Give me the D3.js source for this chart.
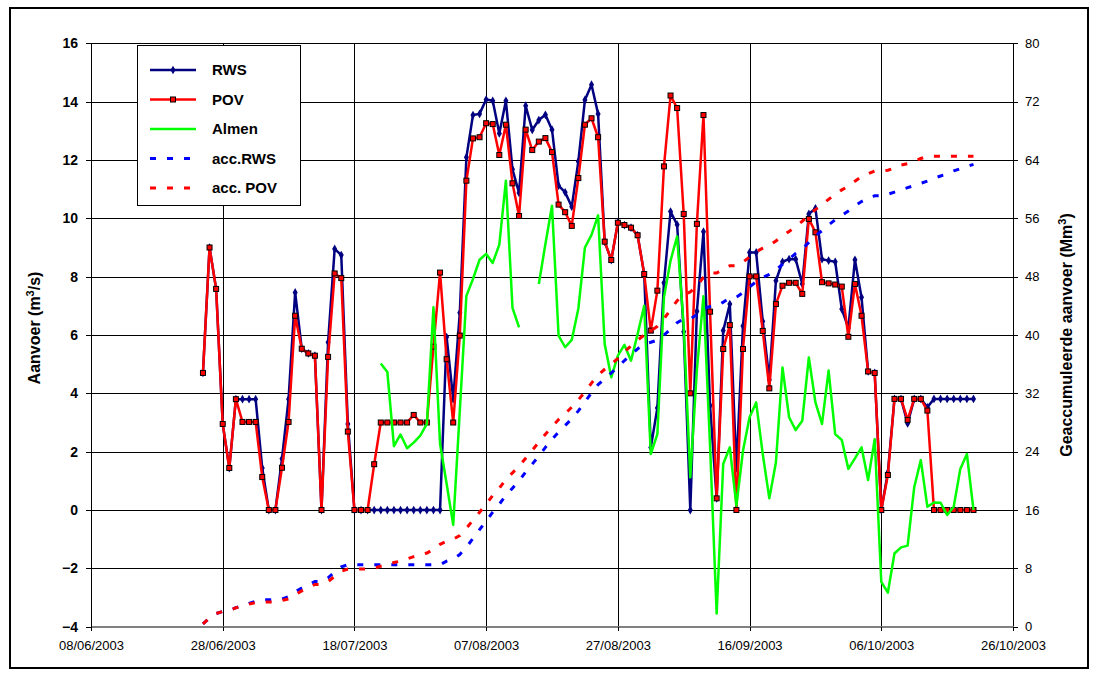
<!DOCTYPE html>
<html>
<head>
<meta charset="utf-8">
<script src="https://cdn.jsdelivr.net/npm/d3@7"></script>
<style>
  html, body { margin: 0; padding: 0; background: #fff; }
  svg { display: block; font-family: Arial, "Liberation Sans", sans-serif; }
</style>
</head>
<body>
<svg id="chart" width="1093" height="675"></svg>
<script>
// Daily values, first day 25/06/2003, last day 20/10/2003
const firstDay = "25/06/2003";

// Aanvoer RWS (m3/s)
const rws = [
  4.7, 9.0, 7.58, 2.95, 1.44, 3.8, 3.8, 3.8, 3.8, 1.44,
  0, 0, 1.76, 3.8, 7.46, 5.53, 5.37, 5.29, 0, 5.75,
  8.95, 8.74, 2.95, 0, 0, 0, 0, 0, 0, 0,
  0, 0, 0, 0, 0, 0, 0, 5.93, 3.8, 6.76,
  12.09, 13.54, 13.58, 14.07, 14.03, 12.91, 14.03, 11.68, 10.87, 13.86,
  13.03, 13.37, 13.55, 13.04, 11.12, 10.89, 10.4, 11.95, 14.06, 14.58,
  13.58, 9.2, 8.57, 9.85, 9.77, 9.68, 9.42, 8.09, 2.14, 3.5,
  7.79, 10.23, 9.78, 6.11, 0, 6.81, 9.54, 3.58, 0.4, 6.15,
  7.06, 1.43, 6.31, 8.83, 8.83, 6.47, 4.47, 7.86, 8.51, 8.6,
  8.6, 7.75, 10.15, 10.34, 8.6, 8.55, 8.51, 6.89, 6.24, 8.58,
  7.29, 4.75, 4.7, 0, 1.29, 3.81, 3.81, 2.97, 3.81, 3.81,
  3.52, 3.81, 3.81, 3.81, 3.81, 3.81, 3.81, 3.81
];

// Aanvoer POV (m3/s)
const pov = [
  4.7, 9.0, 7.58, 2.95, 1.44, 3.8, 3.02, 3.02, 3.02, 1.13,
  0, 0, 1.45, 3.02, 6.66, 5.53, 5.37, 5.29, 0, 5.25,
  8.11, 7.95, 2.69, 0, 0, 0, 1.57, 3.0, 3.0, 3.0,
  3.0, 3.0, 3.26, 3.0, 3.0, 5.6, 8.14, 5.17, 3.0, 5.98,
  11.29, 12.74, 12.78, 13.26, 13.23, 12.17, 13.21, 11.2, 10.08, 13.04,
  12.34, 12.63, 12.75, 12.27, 10.47, 10.21, 9.74, 11.38, 13.21, 13.43,
  12.78, 9.2, 8.57, 9.85, 9.77, 9.68, 9.42, 8.09, 6.15, 7.52,
  11.78, 14.21, 13.78, 10.15, 4.0, 9.81, 13.54, 6.8, 0.4, 5.52,
  6.34, 0, 5.52, 8.01, 8.01, 6.14, 4.17, 7.06, 7.69, 7.79,
  7.79, 7.41, 9.98, 9.52, 7.81, 7.77, 7.73, 7.66, 5.94, 7.75,
  6.66, 4.75, 4.7, 0, 1.2, 3.81, 3.81, 3.09, 3.81, 3.81,
  3.41, 0, 0, 0, 0, 0, 0, 0
];

// Aanvoer Almen (m3/s), null = no measurement
const almen = [
  null, null, null, null, null, null, null, null, null, null,
  null, null, null, null, null, null, null, null, null, null,
  null, null, null, null, null, null, null, 5.02, 4.73, 2.19,
  2.59, 2.12, 2.31, 2.55, 2.95, 6.95, 2.27, 0.9, -0.51, 3.4,
  7.34, 7.92, 8.58, 8.78, 8.47, 9.1, 11.29, 6.93, 6.26, null,
  null, 7.75, 9.12, 10.43, 5.98, 5.58, 5.83, 6.9, 9.0, 9.43,
  10.1, 5.69, 4.55, 5.29, 5.66, 5.12, 6.03, 7.0, 1.92, 2.6,
  7.29, 8.55, 9.38, 6.3, 1.12, 4.8, 7.33, 2.2, -3.55, 1.58,
  2.15, 0.15, 2.03, 3.18, 3.69, 1.92, 0.4, 1.63, 4.89, 3.18,
  2.74, 3.06, 5.23, 3.69, 2.95, 4.78, 2.6, 2.4, 1.41, 1.77,
  2.15, 1.03, 2.43, -2.46, -2.83, -1.49, -1.28, -1.22, 0.78, 1.71,
  0.11, 0.26, 0.25, -0.17, 0.11, 1.41, 1.92, 0.0
];

// Geaccumuleerde aanvoer RWS (Mm3)
const accRws = [
  0.4, 1.2, 1.8, 2.1, 2.2, 2.6, 2.9, 3.2, 3.5, 3.7,
  3.7, 3.7, 3.8, 4.1, 4.8, 5.3, 5.7, 6.2, 6.2, 6.7,
  7.5, 8.2, 8.5, 8.5, 8.5, 8.5, 8.5, 8.5, 8.5, 8.5,
  8.5, 8.5, 8.5, 8.5, 8.5, 8.5, 8.5, 9.0, 9.3, 9.9,
  10.9, 12.1, 13.3, 14.5, 15.7, 16.8, 18.0, 19.0, 20.0, 21.2,
  22.3, 23.4, 24.6, 25.7, 26.7, 27.6, 28.5, 29.6, 30.8, 32.1,
  33.2, 34.0, 34.8, 35.6, 36.5, 37.3, 38.1, 38.8, 39.0, 39.3,
  40.0, 40.8, 41.7, 42.2, 42.2, 42.8, 43.6, 43.9, 44.0, 44.5,
  45.1, 45.2, 45.8, 46.6, 47.3, 47.9, 48.3, 48.9, 49.7, 50.4,
  51.2, 51.8, 52.7, 53.6, 54.3, 55.1, 55.8, 56.4, 57.0, 57.7,
  58.3, 58.7, 59.1, 59.1, 59.3, 59.6, 59.9, 60.2, 60.5, 60.8,
  61.1, 61.5, 61.8, 62.1, 62.5, 62.8, 63.1, 63.4
];

// Geaccumuleerde aanvoer POV (Mm3)
const accPov = [
  0.4, 1.2, 1.8, 2.1, 2.2, 2.6, 2.8, 3.1, 3.3, 3.4,
  3.4, 3.4, 3.6, 3.8, 4.4, 4.9, 5.3, 5.8, 5.8, 6.2,
  6.9, 7.6, 7.9, 7.9, 7.9, 7.9, 8.0, 8.3, 8.5, 8.8,
  9.0, 9.3, 9.6, 9.8, 10.1, 10.6, 11.3, 11.7, 12.0, 12.5,
  13.5, 14.6, 15.7, 16.8, 18.0, 19.0, 20.2, 21.1, 22.0, 23.1,
  24.2, 25.3, 26.4, 27.4, 28.4, 29.2, 30.1, 31.1, 32.2, 33.4,
  34.5, 35.3, 36.0, 36.8, 37.7, 38.5, 39.3, 40.0, 40.6, 41.2,
  42.2, 43.5, 44.7, 45.5, 45.9, 46.7, 47.9, 48.5, 48.5, 49.0,
  49.5, 49.5, 50.0, 50.7, 51.4, 51.9, 52.3, 52.9, 53.6, 54.2,
  54.9, 55.6, 56.4, 57.2, 57.9, 58.6, 59.3, 59.9, 60.4, 61.1,
  61.7, 62.1, 62.5, 62.5, 62.6, 62.9, 63.3, 63.5, 63.8, 64.2,
  64.5, 64.5, 64.5, 64.5, 64.5, 64.5, 64.5, 64.5
];

// Axis ticks
const dateTicks = ["08/06/2003", "28/06/2003", "18/07/2003", "07/08/2003",
                   "27/08/2003", "16/09/2003", "06/10/2003", "26/10/2003"];
const leftTicks = [-4, -2, 0, 2, 4, 6, 8, 10, 12, 14, 16];
const rightTicks = [0, 8, 16, 24, 32, 40, 48, 56, 64, 72, 80];

const seriesNames = ["RWS", "POV", "Almen", "acc.RWS", "acc. POV"];

// ---------------------------------------------------------------
const parseDate = d3.utcParse("%d/%m/%Y");
const fmtDate = d3.utcFormat("%d/%m/%Y");
const start = parseDate(firstDay);
const days = rws.map((_, i) => d3.utcDay.offset(start, i));
const tickDates = dateTicks.map(parseDate);

const plot = { left: 91, right: 1013, top: 43.3, bottom: 626.7 };

const x = d3.scaleUtc()
  .domain([tickDates[0], tickDates[tickDates.length - 1]])
  .range([plot.left, plot.right]);
const yL = d3.scaleLinear().domain([-4, 16]).range([plot.bottom, plot.top]);
const yR = d3.scaleLinear().domain([0, 80]).range([plot.bottom, plot.top]);

const svg = d3.select("#chart");

// outer frame
svg.append("rect")
  .attr("x", 10).attr("y", 8).attr("width", 1078).attr("height", 660)
  .attr("fill", "#fff").attr("stroke", "#000").attr("stroke-width", 2);

// gridlines
const grid = svg.append("g").attr("shape-rendering", "crispEdges");
grid.selectAll("line.h").data(leftTicks.filter(v => v > -4)).join("line")
  .attr("x1", plot.left).attr("x2", plot.right)
  .attr("y1", d => Math.round(yL(d)) + 0.5).attr("y2", d => Math.round(yL(d)) + 0.5)
  .attr("stroke", "#000").attr("stroke-width", 1);
grid.selectAll("line.v").data(tickDates.slice(1, -1)).join("line")
  .attr("y1", plot.top).attr("y2", plot.bottom)
  .attr("x1", d => Math.round(x(d)) + 0.5).attr("x2", d => Math.round(x(d)) + 0.5)
  .attr("stroke", "#000").attr("stroke-width", 1);

// axes
const axisLeft = svg.append("g")
  .attr("transform", `translate(${plot.left},0)`)
  .call(d3.axisLeft(yL).tickValues(leftTicks).tickSize(5).tickPadding(8).tickSizeOuter(0));
const axisRight = svg.append("g")
  .attr("transform", `translate(${plot.right},0)`)
  .call(d3.axisRight(yR).tickValues(rightTicks).tickSize(5).tickPadding(7).tickSizeOuter(0));
const axisBottom = svg.append("g")
  .attr("transform", `translate(0,${plot.bottom})`)
  .call(d3.axisBottom(x).tickValues(tickDates).tickFormat(fmtDate).tickSize(4).tickPadding(10).tickSizeOuter(0));

[axisLeft, axisRight, axisBottom].forEach(g => {
  g.attr("shape-rendering", "crispEdges");
  g.select(".domain").attr("stroke", "#000").attr("stroke-width", 1);
  g.selectAll(".tick line").attr("stroke", "#000");
  g.selectAll("text").attr("fill", "#000").attr("font-family", "Arial, 'Liberation Sans', sans-serif");
});
axisBottom.select(".domain").attr("stroke", "#808080").attr("stroke-width", 2);
axisLeft.selectAll("text").attr("font-size", 14).attr("font-weight", "bold");
axisRight.selectAll("text").attr("font-size", 13);
axisBottom.selectAll("text").attr("font-size", 13);

// axis titles
const leftTitle = svg.append("text")
  .attr("transform", "translate(40,328) rotate(-90)")
  .attr("text-anchor", "middle").attr("font-size", 16).attr("font-weight", "bold");
leftTitle.append("tspan").text("Aanvoer (m");
leftTitle.append("tspan").attr("dy", -6).attr("font-size", 11).text("3");
leftTitle.append("tspan").attr("dy", 6).text("/s)");

const rightTitle = svg.append("text")
  .attr("transform", "translate(1072,335) rotate(-90)")
  .attr("text-anchor", "middle").attr("font-size", 16).attr("font-weight", "bold");
rightTitle.append("tspan").text("Geaccumuleerde aanvoer (Mm");
rightTitle.append("tspan").attr("dy", -6).attr("font-size", 11).text("3");
rightTitle.append("tspan").attr("dy", 6).text(")");

// series
svg.append("clipPath").attr("id", "plotclip").append("rect")
  .attr("x", plot.left).attr("y", plot.top - 5)
  .attr("width", plot.right - plot.left).attr("height", plot.bottom - plot.top + 10);

const layer = svg.append("g").attr("clip-path", "url(#plotclip)");

const lineL = d3.line().defined(d => d[1] !== null)
  .x(d => x(d[0])).y(d => yL(d[1]));
const lineR = d3.line().defined(d => d[1] !== null)
  .x(d => x(d[0])).y(d => yR(d[1]));

const rwsPts = days.map((d, i) => [d, rws[i]]);
const povPts = days.map((d, i) => [d, pov[i]]);
const almenPts = days.map((d, i) => [d, almen[i]]);
const accRwsPts = days.map((d, i) => [d, accRws[i]]);
const accPovPts = days.map((d, i) => [d, accPov[i]]);

const navy = "#000080", red = "#ff0000", green = "#00ff00", blue = "#0000ff";
const dash = "6,11";

// RWS
layer.append("path").datum(rwsPts).attr("d", lineL)
  .attr("fill", "none").attr("stroke", navy).attr("stroke-width", 2.5)
  .attr("stroke-linejoin", "round");
const diamond = d3.symbol().type(d3.symbolDiamond).size(22);
layer.selectAll("path.rwsm").data(rwsPts).join("path")
  .attr("class", "rwsm")
  .attr("d", diamond)
  .attr("transform", d => `translate(${x(d[0])},${yL(d[1])})`)
  .attr("fill", navy);

// POV
layer.append("path").datum(povPts).attr("d", lineL)
  .attr("fill", "none").attr("stroke", red).attr("stroke-width", 2.5)
  .attr("stroke-linejoin", "round");
layer.selectAll("rect.povm").data(povPts).join("rect")
  .attr("class", "povm")
  .attr("x", d => x(d[0]) - 2.5).attr("y", d => yL(d[1]) - 2.5)
  .attr("width", 5).attr("height", 5)
  .attr("fill", red).attr("stroke", "#000").attr("stroke-width", 1);

// Almen
layer.append("path").datum(almenPts).attr("d", lineL)
  .attr("fill", "none").attr("stroke", green).attr("stroke-width", 2.5)
  .attr("stroke-linejoin", "round");

// accumulated
layer.append("path").datum(accRwsPts).attr("d", lineR)
  .attr("fill", "none").attr("stroke", blue).attr("stroke-width", 3)
  .attr("stroke-dasharray", dash);
layer.append("path").datum(accPovPts).attr("d", lineR)
  .attr("fill", "none").attr("stroke", red).attr("stroke-width", 3)
  .attr("stroke-dasharray", dash);

// legend
const legend = svg.append("g");
legend.append("rect")
  .attr("x", 137.5).attr("y", 45.5).attr("width", 163).attr("height", 160)
  .attr("fill", "#fff").attr("stroke", "#000").attr("stroke-width", 1);
const legendStyles = [
  { stroke: navy, dash: null, marker: "diamond" },
  { stroke: red, dash: null, marker: "square" },
  { stroke: green, dash: null, marker: null },
  { stroke: blue, dash: dash, marker: null },
  { stroke: red, dash: dash, marker: null }
];
const ly = d3.scalePoint().domain(seriesNames).range([70, 188]);
seriesNames.forEach((name, i) => {
  const s = legendStyles[i];
  const yy = ly(name);
  legend.append("line")
    .attr("x1", 150).attr("x2", 196).attr("y1", yy).attr("y2", yy)
    .attr("stroke", s.stroke).attr("stroke-width", s.dash ? 3 : 2.5)
    .attr("stroke-dasharray", s.dash);
  if (s.marker === "diamond") {
    legend.append("path").attr("d", diamond)
      .attr("transform", `translate(173,${yy})`).attr("fill", navy);
  } else if (s.marker === "square") {
    legend.append("rect").attr("x", 170.5).attr("y", yy - 2.5)
      .attr("width", 5).attr("height", 5)
      .attr("fill", red).attr("stroke", "#000").attr("stroke-width", 1);
  }
  legend.append("text")
    .attr("x", 212).attr("y", yy).attr("dy", "0.36em")
    .attr("font-size", 15).attr("font-weight", "bold").text(name);
});
</script>
</body>
</html>
